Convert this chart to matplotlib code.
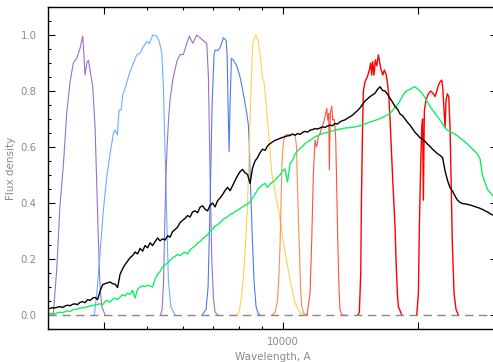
import matplotlib
matplotlib.use('Agg')
import matplotlib.pyplot as plt
from matplotlib.ticker import FixedLocator, FixedFormatter, MultipleLocator, FormatStrFormatter, NullFormatter

# filter transmission curves (wavelength in A, normalised transmission)
u_wave = [3000, 3086, 3141, 3194, 3249, 3307, 3363, 3420, 3481, 3540, 3590, 3633, 3665,
          3695, 3727, 3779, 3824, 3858, 3889, 3923, 3958, 4025]
u_trans = [0, 0, 0.16, 0.387, 0.53, 0.72, 0.83, 0.90, 0.917, 0.952, 0.996, 0.857, 0.90,
           0.91, 0.875, 0.815, 0.67, 0.46, 0.27, 0.10, 0.03, 0]

g_wave = [3810, 3858, 3923, 3990, 4061, 4130, 4201, 4237, 4287, 4324, 4369, 4407, 4482,
          4559, 4653, 4735, 4816, 4898, 4984, 5050, 5139, 5246, 5315, 5382, 5426, 5474,
          5522, 5567, 5635, 5761]
g_trans = [0, 0.077, 0.22, 0.375, 0.494, 0.577, 0.649, 0.661, 0.643, 0.732, 0.732, 0.786, 0.821,
           0.863, 0.899, 0.929, 0.935, 0.958, 0.976, 0.970, 1.0, 0.996, 0.976, 0.935, 0.815, 0.577,
           0.34, 0.125, 0.03, 0]

r_wave = [5348, 5390, 5432, 5460, 5494, 5530, 5572, 5615, 5694, 5812, 5910, 6011, 6116,
          6199, 6308, 6438, 6547, 6659, 6777, 6834, 6893, 6953, 7011, 7071, 7181]
r_trans = [0, 0.02, 0.12, 0.3, 0.48, 0.6, 0.7, 0.77, 0.84, 0.905, 0.93, 0.93, 0.97,
           0.996, 0.97, 1.0, 0.99, 0.98, 0.97, 0.85, 0.5, 0.2, 0.06, 0.01, 0]

i_wave = [6615, 6752, 6822, 6893, 6964, 7035, 7071, 7181, 7255, 7380, 7483, 7521, 7559,
          7597, 7636, 7687, 7766, 7902, 8036, 8175, 8317, 8385, 8429, 8472, 8546, 8634,
          8722, 8813, 8903]
i_trans = [0, 0.02, 0.1, 0.4, 0.75, 0.93, 0.946, 0.945, 0.955, 0.99, 0.98, 0.93, 0.75,
           0.583, 0.75, 0.917, 0.91, 0.89, 0.85, 0.79, 0.72, 0.68, 0.6, 0.48, 0.3, 0.12,
           0.03, 0.005, 0]

z_wave = [7911, 7993, 8075, 8160, 8245, 8331, 8392, 8459, 8533, 8576, 8707, 8824, 8935,
          9007, 9087, 9213, 9322, 9452, 9515, 9663, 9813, 10067, 10380, 10651, 10926, 11153]
z_trans = [0, 0.01, 0.05, 0.12, 0.22, 0.36, 0.5, 0.7, 0.88, 0.97, 1.0, 0.98, 0.91,
           0.846, 0.833, 0.73, 0.625, 0.507, 0.48, 0.42, 0.364, 0.245, 0.125, 0.043, 0.007, 0]

Y_wave = [9467, 9614, 9737, 9812, 9863, 9913, 9964, 10041, 10118, 10276, 10472, 10651,
          10733, 10777, 10842, 10886, 10954, 11022, 11153, 11385]
Y_trans = [0, 0.01, 0.05, 0.15, 0.25, 0.4, 0.55, 0.62, 0.643, 0.645, 0.646, 0.645,
           0.6, 0.48, 0.33, 0.245, 0.1, 0.03, 0.005, 0]

J_wave = [11325, 11500, 11602, 11699, 11801, 11880, 11941, 12002, 12106, 12313, 12420,
          12529, 12593, 12658, 12696, 12761, 12854, 12920, 13007, 13073, 13120, 13188,
          13256, 13344, 13412, 13530, 13758]
J_trans = [0, 0.077, 0.268, 0.506, 0.625, 0.60, 0.613, 0.637, 0.649, 0.685, 0.708,
           0.738, 0.696, 0.72, 0.518, 0.72, 0.746, 0.696, 0.70, 0.673, 0.625, 0.446,
           0.268, 0.089, 0.018, 0, 0]

H_wave = [14708, 14806, 14913, 14959, 15036, 15112, 15243, 15425, 15584, 15696, 15776,
          15857, 15962, 16068, 16185, 16320, 16403, 16522, 16607, 16692, 16828, 16976,
          17089, 17212, 17326, 17416, 17568, 17622, 17775, 17868, 17988, 18081, 18400]
H_trans = [0, 0.01, 0.15, 0.387, 0.625, 0.80, 0.833, 0.851, 0.875, 0.90, 0.857,
           0.905, 0.857, 0.911, 0.89, 0.929, 0.91, 0.88, 0.87, 0.857, 0.875, 0.86,
           0.833, 0.786, 0.70, 0.62, 0.48, 0.44, 0.315, 0.196, 0.077, 0.03, 0]

K_wave = [19869, 20033, 20136, 20281, 20386, 20469, 20553, 20658, 20838, 21085, 21345,
          21632, 21819, 22012, 22194, 22387, 22584, 22700, 22851, 22967, 23086, 23240,
          23407, 23561, 23683, 23842, 24049, 24296, 24584]
K_trans = [0, 0.077, 0.315, 0.55, 0.67, 0.70, 0.41, 0.73, 0.768, 0.79, 0.80,
           0.79, 0.78, 0.80, 0.82, 0.833, 0.839, 0.81, 0.73, 0.67, 0.768, 0.79,
           0.78, 0.67, 0.494, 0.256, 0.077, 0.02, 0]

# the two spectra share one wavelength grid
spec_wave = [2990, 3035, 3074, 3113, 3153, 3194, 3235, 3278, 3320, 3363,
             3406, 3450, 3495, 3540, 3586, 3633, 3680, 3727, 3775, 3824,
             3873, 3923, 3974, 4025, 4077, 4130, 4183, 4237, 4292, 4346,
             4402, 4459, 4516, 4575, 4634, 4693, 4754, 4816, 4878, 4940,
             5004, 5068, 5133, 5200, 5267, 5334, 5403, 5474, 5545, 5615,
             5687, 5761, 5835, 5910, 5986, 6063, 6141, 6221, 6301, 6382,
             6464, 6547, 6631, 6717, 6804, 6893, 6982, 7071, 7162, 7255,
             7349, 7443, 7539, 7636, 7734, 7834, 7935, 8036, 8140, 8245,
             8351, 8459, 8568, 8677, 8789, 8903, 9018, 9134, 9252, 9370,
             9491, 9614, 9738, 9863, 9990, 10118, 10249, 10380, 10514, 10651,
             10788, 10926, 11067, 11209, 11354, 11500, 11648, 11801, 11953, 12106,
             12262, 12420, 12580, 12741, 12905, 13073, 13242, 13412, 13585, 13758,
             13935, 14115, 14297, 14481, 14668, 14859, 15051, 15243, 15440, 15639,
             15841, 16043, 16250, 16462, 16674, 16888, 17106, 17326, 17549, 17775,
             18004, 18239, 18474, 18712, 18953, 19197, 19445, 19694, 19948, 20208,
             20469, 20731, 20998, 21268, 21542, 21819, 22100, 22387, 22676, 22967,
             23263, 23561, 23865, 24171, 24483, 24797, 25117, 25443, 25771, 26102,
             26439, 26777, 27122, 27470, 27824, 28191, 28555, 28920, 29363]

flux_black = [0.020, 0.024, 0.026, 0.025, 0.028, 0.030, 0.027, 0.032, 0.035, 0.033,
              0.038, 0.040, 0.037, 0.045, 0.048, 0.044, 0.055, 0.052, 0.060, 0.063,
              0.055, 0.085, 0.108, 0.112, 0.115, 0.118, 0.112, 0.110, 0.098, 0.145,
              0.165, 0.180, 0.192, 0.205, 0.212, 0.225, 0.218, 0.238, 0.228, 0.248,
              0.240, 0.258, 0.248, 0.262, 0.275, 0.265, 0.272, 0.268, 0.283, 0.278,
              0.298, 0.305, 0.314, 0.330, 0.338, 0.345, 0.355, 0.350, 0.368, 0.372,
              0.365, 0.385, 0.390, 0.378, 0.372, 0.392, 0.400, 0.386, 0.408, 0.418,
              0.430, 0.445, 0.456, 0.444, 0.462, 0.480, 0.498, 0.512, 0.520, 0.508,
              0.502, 0.470, 0.525, 0.550, 0.562, 0.580, 0.592, 0.588, 0.604, 0.612,
              0.618, 0.624, 0.627, 0.631, 0.634, 0.637, 0.640, 0.641, 0.646, 0.642,
              0.648, 0.645, 0.652, 0.656, 0.653, 0.660, 0.662, 0.666, 0.664, 0.668,
              0.672, 0.670, 0.675, 0.678, 0.676, 0.684, 0.682, 0.690, 0.694, 0.697,
              0.703, 0.708, 0.714, 0.722, 0.730, 0.740, 0.752, 0.764, 0.772, 0.780,
              0.786, 0.792, 0.806, 0.815, 0.802, 0.800, 0.788, 0.774, 0.760, 0.745,
              0.735, 0.718, 0.712, 0.700, 0.688, 0.678, 0.665, 0.652, 0.643, 0.633,
              0.627, 0.620, 0.610, 0.602, 0.592, 0.584, 0.576, 0.570, 0.562, 0.515,
              0.480, 0.455, 0.442, 0.425, 0.410, 0.402, 0.398, 0.397, 0.395, 0.393,
              0.390, 0.387, 0.384, 0.381, 0.377, 0.372, 0.368, 0.362, 0.357]

flux_green = [0.004, 0.005, 0.006, 0.004, 0.008, 0.010, 0.008, 0.012, 0.015, 0.012,
              0.018, 0.020, 0.022, 0.024, 0.027, 0.026, 0.030, 0.032, 0.034, 0.036,
              0.038, 0.040, 0.036, 0.048, 0.052, 0.046, 0.056, 0.060, 0.055, 0.064,
              0.072, 0.068, 0.078, 0.074, 0.088, 0.060, 0.092, 0.100, 0.104, 0.102,
              0.106, 0.104, 0.100, 0.128, 0.145, 0.155, 0.172, 0.180, 0.186, 0.196,
              0.204, 0.210, 0.216, 0.212, 0.220, 0.224, 0.218, 0.232, 0.240, 0.246,
              0.256, 0.262, 0.272, 0.280, 0.286, 0.300, 0.306, 0.318, 0.322, 0.330,
              0.340, 0.346, 0.350, 0.360, 0.362, 0.370, 0.374, 0.380, 0.386, 0.392,
              0.396, 0.404, 0.418, 0.432, 0.446, 0.458, 0.465, 0.470, 0.455, 0.468,
              0.474, 0.482, 0.492, 0.500, 0.515, 0.522, 0.475, 0.540, 0.552, 0.575,
              0.585, 0.595, 0.602, 0.612, 0.618, 0.624, 0.630, 0.636, 0.640, 0.644,
              0.648, 0.650, 0.652, 0.655, 0.658, 0.660, 0.662, 0.664, 0.666, 0.668,
              0.668, 0.670, 0.670, 0.672, 0.674, 0.676, 0.680, 0.682, 0.686, 0.690,
              0.692, 0.695, 0.698, 0.702, 0.705, 0.710, 0.715, 0.720, 0.730, 0.742,
              0.752, 0.765, 0.782, 0.796, 0.802, 0.806, 0.812, 0.815, 0.808, 0.800,
              0.790, 0.775, 0.760, 0.745, 0.732, 0.720, 0.708, 0.696, 0.682, 0.668,
              0.660, 0.655, 0.650, 0.646, 0.640, 0.632, 0.626, 0.618, 0.610, 0.601,
              0.592, 0.584, 0.574, 0.558, 0.500, 0.472, 0.448, 0.438, 0.425]

purple = '#9b6fc6'
txt = '#8a8a8a'

fig = plt.figure(figsize=(4.93, 3.62), dpi=100)
ax = fig.add_axes([47.7 / 493, 33 / 362, 449.5 / 493, 322 / 362])

ax.plot(u_wave, u_trans, color=purple, lw=0.8)
ax.plot(g_wave, g_trans, color='#6aaeff', lw=0.8)
ax.plot(r_wave, r_trans, color=purple, lw=0.8)
ax.plot(i_wave, i_trans, color='#5079ee', lw=0.8)
ax.plot(z_wave, z_trans, color='#ffd050', lw=0.8)
ax.plot(Y_wave, Y_trans, color='#ff8a55', lw=0.8)
ax.plot(J_wave, J_trans, color='#ff5040', lw=0.8)
ax.plot(H_wave, H_trans, color='#ff0000', lw=1.0)
ax.plot(K_wave, K_trans, color='#ff0000', lw=1.0)

ax.axhline(0, color='#888888', lw=1.0, ls=(0, (6, 4)))

ax.plot(spec_wave, flux_green, color='#10f060', lw=1.0)
ax.plot(spec_wave, flux_black, color='black', lw=1.0)

ax.set_xscale('log')
ax.set_xlim(3000, 30000)
ax.set_ylim(-0.05, 1.1)

ax.xaxis.set_major_locator(FixedLocator([4000, 10000, 20000]))
ax.xaxis.set_major_formatter(FixedFormatter(['', '10000', '']))
ax.xaxis.set_minor_locator(FixedLocator([5000, 6000, 7000, 8000, 9000]))
ax.xaxis.set_minor_formatter(NullFormatter())
ax.yaxis.set_major_locator(MultipleLocator(0.2))
ax.yaxis.set_minor_locator(MultipleLocator(0.05))
ax.yaxis.set_major_formatter(FormatStrFormatter('%.1f'))

ax.tick_params(which='both', direction='in', top=True, right=True, width=0.8,
               labelsize=7.3, labelcolor=txt)
ax.tick_params(which='major', length=5)
ax.tick_params(which='minor', length=2.5)
ax.tick_params(axis='y', pad=8)
ax.tick_params(axis='x', pad=6)
for s in ax.spines.values():
    s.set_linewidth(1.0)

ax.set_xlabel('Wavelength, A', fontsize=7.5, color=txt, labelpad=3)
ax.set_ylabel('Flux density', fontsize=7.5, color=txt, labelpad=3)

fig.savefig('out.png', dpi=100)
